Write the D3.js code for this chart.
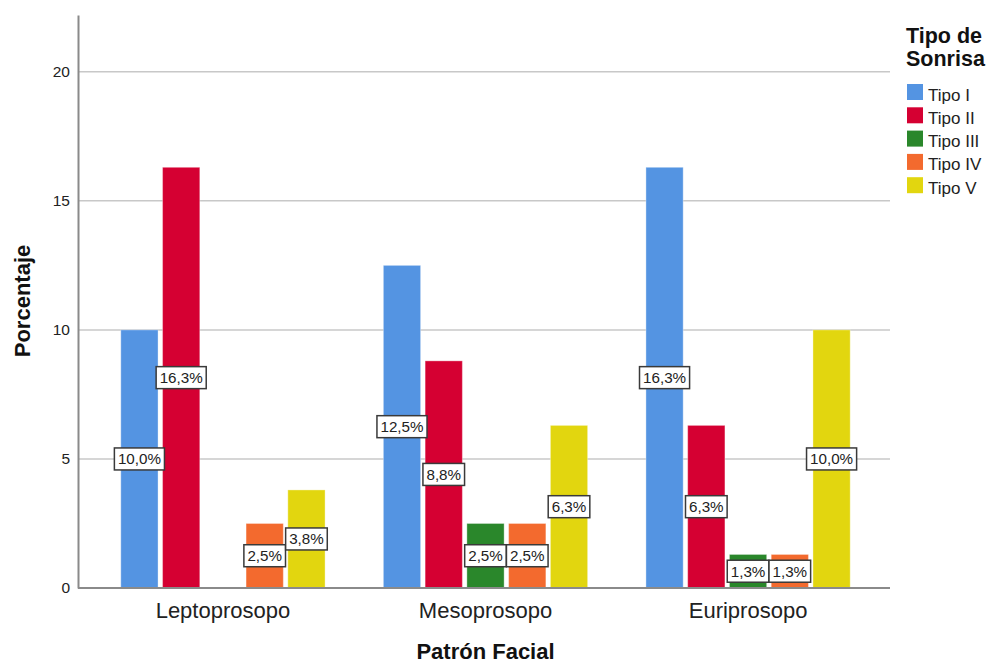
<!DOCTYPE html>
<html>
<head>
<meta charset="utf-8">
<script src="https://cdn.jsdelivr.net/npm/d3@7"></script>
<style>
  html, body { margin: 0; padding: 0; background: #fff; }
  svg { display: block; font-family: "Liberation Sans", Arial, sans-serif; }
</style>
</head>
<body>
<svg id="chart" width="989" height="664"></svg>
<script>
// Facial pattern groups and smile types
const categories = ["Leptoprosopo", "Mesoprosopo", "Euriprosopo"];
const series = ["Tipo I", "Tipo II", "Tipo III", "Tipo IV", "Tipo V"];
const colors = ["#5494e2", "#d50032", "#2a872b", "#f36a2e", "#e2d60f"];

// Percentages per smile type, one value per facial pattern
const tipoI   = [10.0, 12.5, 16.3];
const tipoII  = [16.3, 8.8, 6.3];
const tipoIII = [0, 2.5, 1.3];
const tipoIV  = [2.5, 2.5, 1.3];
const tipoV   = [3.8, 6.3, 10.0];
const seriesValues = [tipoI, tipoII, tipoIII, tipoIV, tipoV];

const yTicks = [0, 5, 10, 15, 20];
const yMax = 22.2;

const svg = d3.select("#chart");
const plotLeft = 78, plotRight = 890, plotTop = 15, plotBottom = 588;

// category bands (slightly wider than the grid so groups sit centred)
const x0 = d3.scaleBand().domain(categories).range([plotLeft, 893]).paddingInner(0).paddingOuter(0.052);
// the five bars of a group span ~78% of the band
const groupWidth = x0.bandwidth() * 0.778;
const x1 = d3.scaleBand().domain(series)
  .range([(x0.bandwidth() - groupWidth) / 2, (x0.bandwidth() + groupWidth) / 2])
  .paddingInner(0.108).paddingOuter(0);

const y = d3.scaleLinear().domain([0, yMax]).range([plotBottom, plotTop]);

// gridlines
svg.append("g")
  .selectAll("line")
  .data(yTicks.filter(t => t > 0))
  .join("line")
  .attr("x1", plotLeft).attr("x2", plotRight)
  .attr("y1", d => y(d)).attr("y2", d => y(d))
  .attr("stroke", "#c8c8c8").attr("stroke-width", 1.5);

// y axis
const yAxis = svg.append("g")
  .attr("transform", `translate(${plotLeft},0)`)
  .call(d3.axisLeft(y).tickValues(yTicks).tickSize(0).tickPadding(8).tickFormat(d3.format("d")));
yAxis.select(".domain").attr("stroke", "#8a8a8a").attr("stroke-width", 2);
yAxis.selectAll("text").attr("font-size", 15.5).attr("fill", "#222").attr("font-family", "Liberation Sans, Arial, sans-serif");

// bars
const rows = [];
categories.forEach((c, ci) => {
  series.forEach((s, si) => {
    rows.push({ cat: c, ser: s, si, value: seriesValues[si][ci] });
  });
});

svg.append("g")
  .selectAll("rect")
  .data(rows.filter(d => d.value > 0))
  .join("rect")
  .attr("x", d => x0(d.cat) + x1(d.ser))
  .attr("y", d => y(d.value))
  .attr("width", x1.bandwidth())
  .attr("height", d => y(0) - y(d.value))
  .attr("fill", d => colors[d.si])
  .attr("stroke", "#ffffff")
  .attr("stroke-opacity", 0.35)
  .attr("stroke-width", 1);

// baseline
svg.append("line")
  .attr("x1", plotLeft).attr("x2", plotRight)
  .attr("y1", y(0)).attr("y2", y(0))
  .attr("stroke", "#8a8a8a").attr("stroke-width", 2);

// value labels centred at bar mid-height
const fmt = v => v.toFixed(1).replace(".", ",") + "%";
const labels = svg.append("g")
  .selectAll("g")
  .data(rows.filter(d => d.value > 0))
  .join("g")
  .attr("transform", d => `translate(${x0(d.cat) + x1(d.ser) + x1.bandwidth() / 2},${y(d.value / 2)})`);

labels.append("text")
  .attr("text-anchor", "middle")
  .attr("y", 5.4)
  .attr("font-size", 15.2)
  .attr("fill", "#222")
  .text(d => fmt(d.value));

labels.each(function () {
  const g = d3.select(this);
  const bb = g.select("text").node().getBBox();
  g.insert("rect", "text")
    .attr("x", bb.x - 3.5).attr("y", -11)
    .attr("width", bb.width + 7).attr("height", 22)
    .attr("fill", "#fff")
    .attr("stroke", "#3a3a3a").attr("stroke-width", 1.5);
});

// x category labels
svg.append("g")
  .selectAll("text")
  .data(categories)
  .join("text")
  .attr("x", d => x0(d) + x0.bandwidth() / 2)
  .attr("y", 618)
  .attr("text-anchor", "middle")
  .attr("font-size", 22)
  .attr("fill", "#222")
  .text(d => d);

// axis titles
svg.append("text")
  .attr("x", x0(categories[1]) + x0.bandwidth() / 2)
  .attr("y", 659)
  .attr("text-anchor", "middle")
  .attr("font-size", 22)
  .attr("font-weight", "bold")
  .attr("fill", "#111")
  .text("Patrón Facial");

svg.append("text")
  .attr("transform", "translate(30,301) rotate(-90)")
  .attr("text-anchor", "middle")
  .attr("font-size", 22)
  .attr("font-weight", "bold")
  .attr("fill", "#111")
  .text("Porcentaje");

// legend
const legend = svg.append("g").attr("transform", "translate(906,0)");
legend.append("text").attr("x", 0).attr("y", 43)
  .attr("font-size", 21.5).attr("font-weight", "bold").attr("fill", "#111").text("Tipo de");
legend.append("text").attr("x", 0).attr("y", 66)
  .attr("font-size", 21.5).attr("font-weight", "bold").attr("fill", "#111").text("Sonrisa");

const items = legend.selectAll("g.item")
  .data(series)
  .join("g")
  .attr("class", "item")
  .attr("transform", (d, i) => `translate(0,${84 + i * 23.3})`);
items.append("rect")
  .attr("x", 1).attr("y", 0).attr("width", 16).attr("height", 16)
  .attr("fill", (d, i) => colors[i]);
items.append("text")
  .attr("x", 22).attr("y", 16.5)
  .attr("font-size", 17).attr("fill", "#222")
  .text(d => d);
</script>
</body>
</html>
